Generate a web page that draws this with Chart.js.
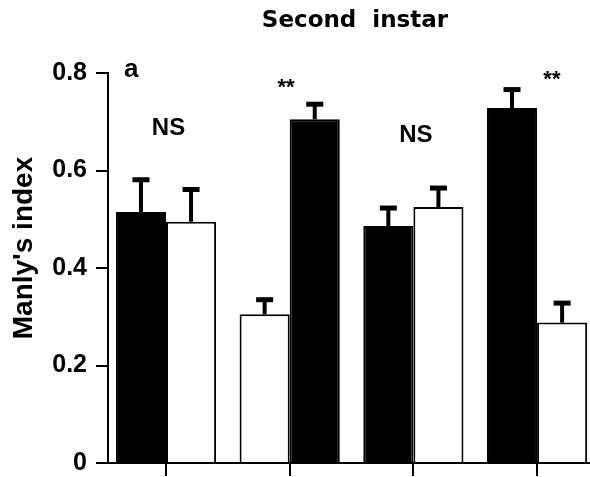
<!DOCTYPE html>
<html>
<head>
<meta charset="utf-8">
<script src="https://cdn.jsdelivr.net/npm/chart.js@4"></script>
<style>
    html, body { margin: 0; padding: 0; background: #fff; }
</style>
</head>
<body>
<canvas id="grafico" width="590" height="477"></canvas>
<script>
// Manly's index, second instar (panel a)
const groups = [0, 1, 2, 3];
const blackMeans = [0.515, 0.705, 0.486, 0.728];
const blackUpper = [0.581, 0.736, 0.523, 0.766];
const whiteMeans = [0.495, 0.305, 0.525, 0.288];
const whiteUpper = [0.561, 0.335, 0.564, 0.328];
const blackFirst = [true, false, true, true];
const yTicks = [0, 0.2, 0.4, 0.6, 0.8];
const marks = ['NS', '**', 'NS', '**'];
const marksX = [0.02, 0.97, 2.02, 3.12];
const marksY = [0.672, 0.756, 0.659, 0.773];

const FONT = '"Liberation Sans", Arial, Helvetica, sans-serif';

function buildDataset(first) {
    const pick = i => (blackFirst[i] === first);
    return {
        data: groups.map(i => ({ x: i, y: pick(i) ? blackMeans[i] : whiteMeans[i] })),
        upper: groups.map(i => pick(i) ? blackUpper[i] : whiteUpper[i]),
        backgroundColor: groups.map(i => pick(i) ? '#000' : '#fff'),
        borderColor: '#000',
        borderWidth: 2,
        borderSkipped: 'start',
        barPercentage: 1.0,
        categoryPercentage: 0.81
    };
}

// T-shaped error bars, upward only
const errorBars = {
    id: 'errorBars',
    afterDatasetsDraw(chart) {
        const ctx = chart.ctx;
        const y = chart.scales.y;
        ctx.save();
        ctx.fillStyle = '#000';
        chart.data.datasets.forEach((ds, d) => {
            chart.getDatasetMeta(d).data.forEach((bar, i) => {
                const top = y.getPixelForValue(ds.upper[i]);
                ctx.fillRect(bar.x - 2, top, 4, bar.y - top);
                ctx.fillRect(bar.x - 8.5, top - 2.5, 17, 5);
            });
        });
        ctx.restore();
    }
};

// title, panel letter, significance marks, y title
const texts = {
    id: 'texts',
    afterDraw(chart) {
        const ctx = chart.ctx;
        const area = chart.chartArea;
        const xs = chart.scales.x;
        const ys = chart.scales.y;
        ctx.save();
        ctx.fillStyle = '#000';
        ctx.textBaseline = 'alphabetic';

        ctx.textAlign = 'center';
        ctx.font = 'bold 23px "DejaVu Sans", sans-serif';
        ctx.fillText('Second  instar', (area.left + area.right) / 2 + 6, 27);

        ctx.textAlign = 'left';
        ctx.font = 'bold 26px ' + FONT;
        ctx.fillText('a', area.left + 16, 77);

        ctx.textAlign = 'center';
        marks.forEach((m, i) => {
            ctx.font = (m === 'NS' ? 'bold 24px ' : 'bold 22px ') + FONT;
            ctx.fillText(m, xs.getPixelForValue(marksX[i]), ys.getPixelForValue(marksY[i]));
        });

        ctx.translate(32, (area.top + area.bottom) / 2 - 20);
        ctx.rotate(-Math.PI / 2);
        ctx.font = 'bold 28px ' + FONT;
        ctx.fillText("Manly's index", 0, 0);
        ctx.restore();
    }
};

const ctx = document.getElementById('grafico').getContext('2d');
const chart = new Chart(ctx, {
    type: 'bar',
    data: {
        datasets: [buildDataset(true), buildDataset(false)]
    },
    options: {
        responsive: false,
        animation: false,
        devicePixelRatio: 1,
        layout: { padding: { top: 73, left: 0, right: 0, bottom: 0 } },
        plugins: {
            legend: { display: false },
            tooltip: { enabled: false },
            title: { display: false }
        },
        scales: {
            x: {
                type: 'linear',
                min: -0.469,
                max: 3.428,
                offset: false,
                afterBuildTicks: s => { s.ticks = groups.map(v => ({ value: v })); },
                afterFit: s => { s.height = 14; },
                ticks: { display: false },
                grid: {
                    offset: false,
                    drawOnChartArea: false,
                    drawTicks: true,
                    tickLength: 13,
                    lineWidth: 2,
                    color: '#000'
                },
                border: { display: true, color: '#000', width: 2 }
            },
            y: {
                min: 0,
                max: 0.8,
                afterBuildTicks: s => { s.ticks = yTicks.map(v => ({ value: v })); },
                afterFit: s => {
                    s.width = 108;
                    s.paddingTop = 0;
                    s.paddingBottom = 0;
                },
                ticks: {
                    color: '#000',
                    padding: 9,
                    font: { family: FONT, size: 25, weight: 'bold' }
                },
                grid: {
                    drawOnChartArea: false,
                    drawTicks: true,
                    tickLength: 12,
                    lineWidth: 2,
                    color: '#000'
                },
                border: { display: true, color: '#000', width: 2 }
            }
        }
    },
    plugins: [errorBars, texts]
});
</script>
</body>
</html>
